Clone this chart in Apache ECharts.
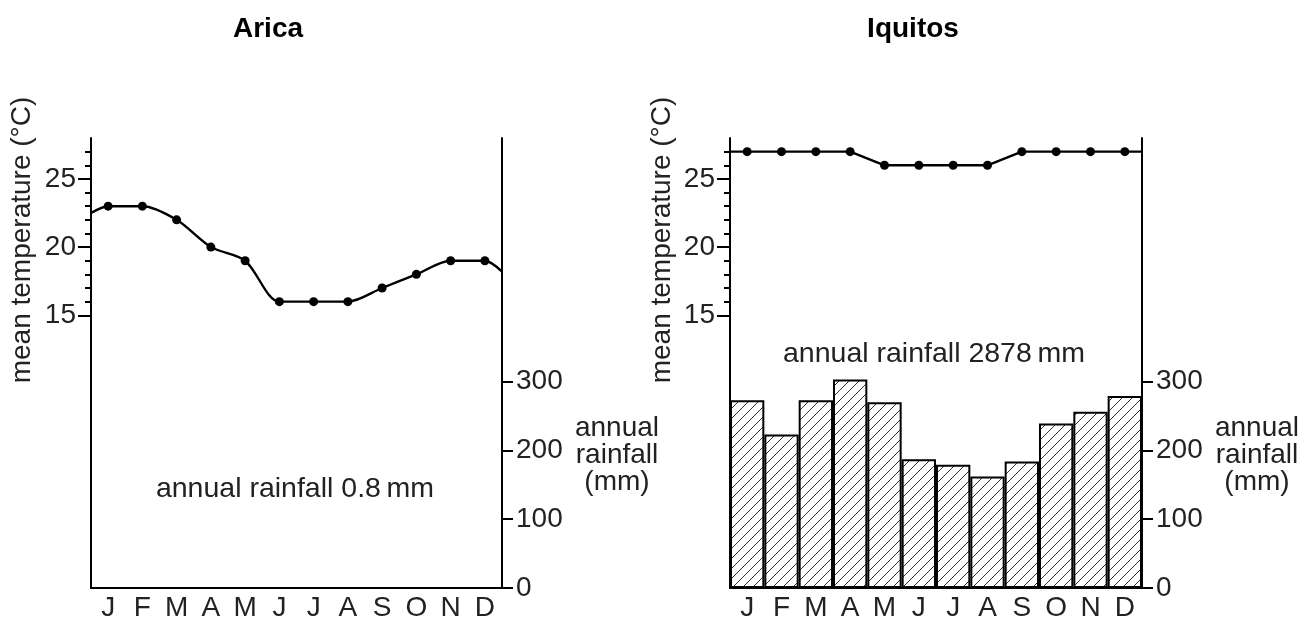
<!DOCTYPE html>
<html><head><meta charset="utf-8">
<script src="https://cdn.jsdelivr.net/npm/echarts@6/dist/echarts.min.js"></script>
<style>html,body{margin:0;padding:0;background:#fff}#c{width:1305px;height:622px}</style>
</head><body><div id="c"></div>
<script>
const months = ['J','F','M','A','M','J','J','A','S','O','N','D'];
const aricaTemp = [23,23,22,20,19,16,16,16,17,18,19,19];
const aricaTempEdges = [22.5,18.2];   // curve value where it meets the left / right axis
const aricaRain = [0.2,0.1,0.1,0,0,0,0,0,0,0,0.1,0.3];
const iquitosTemp = [27,27,27,27,26,26,26,26,27,27,27,27];
const iquitosTempEdges = [27,27];
const iquitosRain = [273,223,273,303,270,187,179,162,184,239,256,279];
const tempLabels = [15,20,25];
const tempMinor = [15,16,17,18,19,20,21,22,23,24,25,26,27];
const rainLabels = [0,100,200,300];
const titles = ['Arica','Iquitos'];
const rainTotals = ['annual rainfall 0.8\u2009mm','annual rainfall 2878\u2009mm'];

const FONT = "'Liberation Sans', Arial, Helvetica, sans-serif";
const TXT = '#222';

const pc = document.createElement('canvas');
pc.width = 10; pc.height = 10;
const g = pc.getContext('2d');
g.fillStyle = '#fff'; g.fillRect(0,0,10,10);
g.strokeStyle = '#333'; g.lineWidth = 1;
g.beginPath();
g.moveTo(0,10); g.lineTo(10,0);
g.moveTo(-1,1); g.lineTo(1,-1);
g.moveTo(9,11); g.lineTo(11,9);
g.stroke();

function withEdges(arr, edges){
  const n = arr.length;
  const d = [{value:[0, edges[0]], symbol:'none'}];
  arr.forEach((v,i)=>d.push([i+0.5, v]));
  d.push({value:[n, edges[1]], symbol:'none'});
  return d;
}

const grids = [
  {left:91, top:138, width:411, height:451},
  {left:730, top:138, width:412, height:451}
];
const axisLineStyle = {color:'#000', width:2};
const xAxes = [], yAxes = [];
grids.forEach((gr, i) => {
  xAxes.push({type:'category', gridIndex:i, data:months, boundaryGap:true,
    axisLine:{show:true, onZero:false, lineStyle:axisLineStyle},
    axisTick:{show:false},
    axisLabel:{fontSize:28, fontFamily:FONT, color:TXT, margin:6},
    splitLine:{show:false}});
  xAxes.push({type:'value', gridIndex:i, min:0, max:12, show:false});
  yAxes.push({type:'value', gridIndex:i, position:'left', min:-5, max:28,
    axisLine:{show:true, onZero:false, lineStyle:axisLineStyle},
    axisTick:{show:true, customValues:tempMinor, length:6, lineStyle:{color:'#000', width:2}},
    axisLabel:{show:false}, splitLine:{show:false}});
  yAxes.push({type:'value', gridIndex:i, position:'left', min:-5, max:28,
    axisLine:{show:false, onZero:false},
    axisTick:{show:true, customValues:tempLabels, length:13, lineStyle:{color:'#000', width:2}},
    axisLabel:{show:true, customValues:tempLabels, fontSize:28, fontFamily:FONT, color:TXT, margin:15},
    splitLine:{show:false}});
  yAxes.push({type:'value', gridIndex:i, position:'right', min:0, max:654,
    axisLine:{show:true, onZero:false, lineStyle:axisLineStyle},
    axisTick:{show:true, customValues:rainLabels, length:11, lineStyle:{color:'#000', width:2}},
    axisLabel:{show:true, customValues:rainLabels, fontSize:28, fontFamily:FONT, color:TXT, margin:14},
    splitLine:{show:false}});
});

const barStyle = {color:{image:pc, repeat:'repeat'}, borderColor:'#000', borderWidth:2};
const series = [
  {type:'bar', xAxisIndex:0, yAxisIndex:2, data:aricaRain, barCategoryGap:'0%', itemStyle:barStyle, silent:true},
  {type:'line', xAxisIndex:1, yAxisIndex:0, data:withEdges(aricaTemp, aricaTempEdges), smooth:0.3, symbol:'circle', symbolSize:9,
    itemStyle:{color:'#000'}, lineStyle:{color:'#000', width:2.4}, z:5, silent:true},
  {type:'bar', xAxisIndex:2, yAxisIndex:5, data:iquitosRain, barCategoryGap:'0%', itemStyle:barStyle, silent:true},
  {type:'line', xAxisIndex:3, yAxisIndex:3, data:withEdges(iquitosTemp, iquitosTempEdges), smooth:false, symbol:'circle', symbolSize:9,
    itemStyle:{color:'#000'}, lineStyle:{color:'#000', width:2.4}, z:5, silent:true}
];

function txt(text, x, y, opts){
  return Object.assign({type:'text', x:x, y:y, silent:true,
    style:Object.assign({text:text, x:0, y:0, fill:TXT, font:'28px ' + FONT, align:'center', verticalAlign:'middle'}, opts||{})});
}
const graphic = [
  txt(titles[0], 268, 29, {font:'bold 28px ' + FONT, fill:'#000'}),
  txt(titles[1], 913, 29, {font:'bold 28px ' + FONT, fill:'#000'}),
  Object.assign(txt('mean temperature (°C)', 22, 240), {rotation:Math.PI/2}),
  Object.assign(txt('mean temperature (°C)', 662, 240), {rotation:Math.PI/2}),
  txt('annual\nrainfall\n(mm)', 617, 455, {lineHeight:27}),
  txt('annual\nrainfall\n(mm)', 1257, 455, {lineHeight:27}),
  txt(rainTotals[0], 295, 489, {font:'28.5px ' + FONT}),
  txt(rainTotals[1], 934, 354, {font:'28.5px ' + FONT})
];

const chart = echarts.init(document.getElementById('c'));
chart.setOption({
  animation:false,
  backgroundColor:'#fff',
  grid:grids,
  xAxis:xAxes,
  yAxis:yAxes,
  series:series,
  graphic:graphic
});
</script></body></html>
